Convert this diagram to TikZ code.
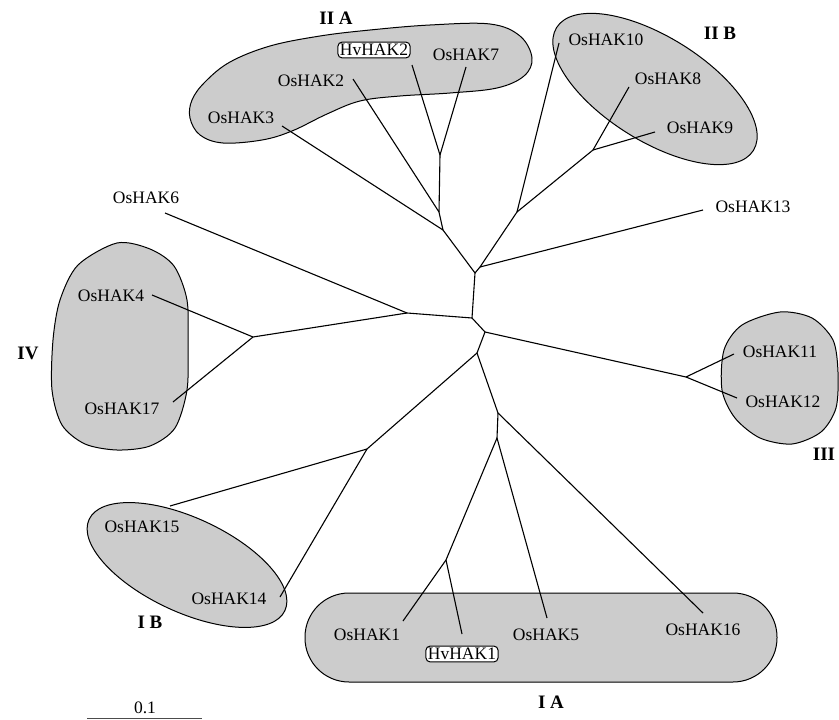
\documentclass[tikz,border=0pt]{standalone}
\usepackage{fontspec}
\setmainfont{Liberation Serif}
\definecolor{blobgray}{RGB}{204,204,204}
\begin{document}
\begin{tikzpicture}[x=1pt,y=-1pt,
  blob/.style={draw=black, fill=blobgray, line width=1pt},
  branch/.style={draw=black, line width=1.1pt},
  lab/.style={font=\fontsize{17.5}{20}\selectfont, inner sep=0pt},
  clade/.style={font=\fontsize{19}{22}\selectfont\bfseries, inner sep=0pt},
  hv/.style={font=\fontsize{17.5}{20}\selectfont, draw, rounded corners=4pt, fill=white, inner sep=2pt, line width=1pt}]
\useasboundingbox (0,0) rectangle (839,720);

% clade blobs
\draw[blob] plot[smooth cycle, tension=0.6] coordinates {(190,118) (200,135) (223,143) (262,140) (292,131) (327,114) (360,101) (400,96) (450,93) (497,88) (524,76) (532,58) (520,36) (490,24) (430,25) (370,30) (320,36) (270,46) (230,62) (205,82) (192,100)};
\draw[blob, rotate around={-32:(655,89)}] (655,89) ellipse [x radius=116, y radius=52];
\draw[blob] plot[smooth cycle] coordinates {(117,243) (150,249) (174,266) (187,300) (188,345) (187,390) (175,428) (150,446) (117,450) (85,444) (62,425) (52,390) (53,340) (60,300) (78,265)};
\draw[blob] plot[smooth cycle] coordinates {(780,312) (812,318) (833,340) (838,372) (836,408) (821,432) (792,444) (760,438) (735,418) (722,390) (724,350) (742,325)};
\draw[blob, rotate around={-25:(187,565)}] (187,565) ellipse [x radius=108, y radius=47];
\draw[blob, rounded corners=44pt] (305,593) rectangle (777,682);

% internal nodes
\coordinate (c1) at (475,273);
\coordinate (c2) at (480,267);
\coordinate (c3) at (472,318);
\coordinate (c4) at (485,332);
\coordinate (c5) at (477,353);
\coordinate (c6) at (498,413);
\coordinate (c7) at (497,438);
\coordinate (c8) at (446,560);
\coordinate (l1) at (407,313);
\coordinate (l2) at (253,337);
\coordinate (a1) at (443,230);
\coordinate (a2) at (439,212);
\coordinate (a3) at (440,155);
\coordinate (b1) at (517,212);
\coordinate (b2) at (593,150);
\coordinate (d1) at (686,377);
\coordinate (e1) at (367,449);

% tips
\coordinate (t3) at (282,126);
\coordinate (t2) at (353,79);
\coordinate (thv2) at (412,65);
\coordinate (t7) at (466,67);
\coordinate (t10) at (559,43);
\coordinate (t8) at (629,87);
\coordinate (t9) at (655,132);
\coordinate (t13) at (703,210);
\coordinate (t6) at (165,213);
\coordinate (t4) at (152,295);
\coordinate (t17) at (173,402);
\coordinate (t11) at (734,354);
\coordinate (t12) at (737,398);
\coordinate (t15) at (170,506);
\coordinate (t14) at (280,597);
\coordinate (t1) at (403,621);
\coordinate (thv1) at (462,634);
\coordinate (t5) at (547,618);
\coordinate (t16) at (703,613);

% branches
\draw[branch] (c1) -- (c2);
\draw[branch] (c1) -- (c3);
\draw[branch] (c1) -- (a1);
\draw[branch] (a1) -- (t3);
\draw[branch] (a1) -- (a2);
\draw[branch] (a2) -- (t2);
\draw[branch] (a2) -- (a3);
\draw[branch] (a3) -- (thv2);
\draw[branch] (a3) -- (t7);
\draw[branch] (c2) -- (b1);
\draw[branch] (c2) -- (t13);
\draw[branch] (b1) -- (t10);
\draw[branch] (b1) -- (b2);
\draw[branch] (b2) -- (t8);
\draw[branch] (b2) -- (t9);
\draw[branch] (c3) -- (l1);
\draw[branch] (l1) -- (t6);
\draw[branch] (l1) -- (l2);
\draw[branch] (l2) -- (t4);
\draw[branch] (l2) -- (t17);
\draw[branch] (c3) -- (c4);
\draw[branch] (c4) -- (d1);
\draw[branch] (d1) -- (t11);
\draw[branch] (d1) -- (t12);
\draw[branch] (c4) -- (c5);
\draw[branch] (c5) -- (e1);
\draw[branch] (e1) -- (t15);
\draw[branch] (e1) -- (t14);
\draw[branch] (c5) -- (c6);
\draw[branch] (c6) -- (t16);
\draw[branch] (c6) -- (c7);
\draw[branch] (c7) -- (c8);
\draw[branch] (c7) -- (t5);
\draw[branch] (c8) -- (t1);
\draw[branch] (c8) -- (thv1);

% leaf labels
\node[lab] (n3) at (241,118) {OsHAK3};
\node[lab] (n2) at (311,81) {OsHAK2};
\node[hv] (nhv2) at (374,50) {HvHAK2};
\node[lab] (n7) at (466,55) {OsHAK7};
\node[lab] (n10) at (606,40) {OsHAK10};
\node[lab] (n8) at (668,79) {OsHAK8};
\node[lab] (n9) at (700,128) {OsHAK9};
\node[lab] (n13) at (753,207) {OsHAK13};
\node[lab] (n6) at (146,198) {OsHAK6};
\node[lab] (n4) at (111,296) {OsHAK4};
\node[lab] (n17) at (122,409) {OsHAK17};
\node[lab] (n11) at (780,352) {OsHAK11};
\node[lab] (n12) at (783,402) {OsHAK12};
\node[lab] (n15) at (142,527) {OsHAK15};
\node[lab] (n14) at (229,599) {OsHAK14};
\node[lab] (n1) at (367,635) {OsHAK1};
\node[hv] (nhv1) at (462,654) {HvHAK1};
\node[lab] (n5) at (546,635) {OsHAK5};
\node[lab] (n16) at (703,630) {OsHAK16};

% clade labels
\node[clade] (gIIA) at (336,18) {II A};
\node[clade] (gIIB) at (720,33) {II B};
\node[clade] (gIV) at (28,353) {IV};
\node[clade] (gIII) at (824,454) {III};
\node[clade] (gIB) at (150,622) {I B};
\node[clade] (gIA) at (551,702) {I A};

% scale bar
\coordinate (s1) at (87,718.5);
\coordinate (s2) at (202,718.5);
\draw[line width=1.5pt, black!70] (s1) -- (s2);
\node[lab] (scale) at (145,708) {0.1};
\end{tikzpicture}
\end{document}
